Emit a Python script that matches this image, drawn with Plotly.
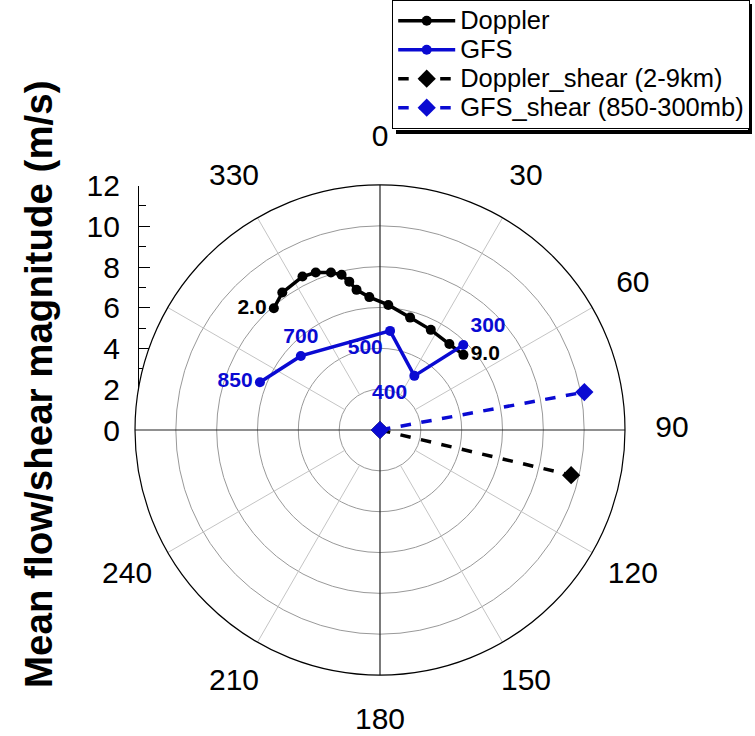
import plotly.graph_objects as go

# Doppler mean flow, 2.0 to 9.0 km layer (speed in m/s, direction in deg)
doppler_speed = [7.91, 8.26, 8.42, 8.33, 8.08, 7.83, 7.42, 6.96, 6.53, 6.14, 5.70, 5.50, 5.41, 5.50]
doppler_dir = [318.9, 324.6, 333.2, 337.8, 342.7, 346.1, 348.3, 350.5, 355.4, 3.8, 15.0, 26.9, 38.9, 48.0]
doppler_labels = ["2.0", "", "", "", "", "", "", "", "", "", "", "", "", "9.0"]

# GFS mean flow at pressure levels (mb)
gfs_levels = ["850", "700", "500", "400", "300"]
gfs_speed = [6.33, 5.31, 4.88, 3.14, 5.83]
gfs_dir = [291.7, 313.1, 5.8, 32.4, 44.4]

# Shear vectors from the origin
doppler_shear_speed = [0, 9.62]
doppler_shear_dir = [103.3, 103.3]
gfs_shear_speed = [0, 10.18]
gfs_shear_dir = [79.5, 79.5]

# Axis settings
r_max = 12
label_r = 14.3          # radius at which the direction labels are centred
ring_vals = [2, 4, 6, 8, 10]
spoke_angles = [30, 60, 120, 150, 210, 240, 300, 330]
cross_angles = [0, 90, 180, 270]
angle_ticks = [0, 30, 60, 90, 120, 150, 180, 210, 240, 330]
y_ticks = [0, 2, 4, 6, 8, 10, 12]

series_names = ["Doppler", "GFS", "Doppler_shear (2-9km)", "GFS_shear (850-300mb)"]

BLUE = "#0a0ad2"
FONT = "Liberation Sans, Arial, Helvetica, sans-serif"

W, H = 755, 736
CX, CY, RPX = 380, 430, 245      # centre and outer-ring radius of the rose, px
LBL_PX = RPX * label_r / r_max   # radius of the label ring, px


def legend_name(s):
    return '<span style="font-size:25.5px">' + s + "</span>"


def px_box(cx, cy, half):
    return dict(x=[(cx - half) / W, (cx + half) / W],
                y=[1 - (cy + half) / H, 1 - (cy - half) / H])


fig = go.Figure()

# light spokes start at the first ring
spoke_r, spoke_t = [], []
for a in spoke_angles:
    spoke_r += [ring_vals[0], r_max, None]
    spoke_t += [a, a, None]
fig.add_trace(go.Scatterpolar(r=spoke_r, theta=spoke_t, mode="lines",
                              line=dict(color="#c4c4c4", width=1),
                              showlegend=False, hoverinfo="skip"))

# black cross through the centre
cross_r, cross_t = [], []
for a in cross_angles:
    cross_r += [0, r_max, None]
    cross_t += [a, a, None]
fig.add_trace(go.Scatterpolar(r=cross_r, theta=cross_t, mode="lines",
                              line=dict(color="#222222", width=1.2),
                              showlegend=False, hoverinfo="skip"))

# direction labels, on a second concentric polar frame
fig.add_trace(go.Scatterpolar(r=[label_r] * len(angle_ticks), theta=angle_ticks,
                              subplot="polar2", mode="text",
                              text=[str(a) for a in angle_ticks],
                              textposition="middle center",
                              textfont=dict(family=FONT, size=30, color="black"),
                              showlegend=False, hoverinfo="skip"))

fig.add_trace(go.Scatterpolar(
    r=doppler_speed, theta=doppler_dir, name=legend_name(series_names[0]),
    mode="lines+markers+text", text=doppler_labels,
    textposition=["middle left"] + ["middle right"] * 13,
    textfont=dict(family=FONT, size=21, color="black", weight="bold"),
    line=dict(color="black", width=3.5),
    marker=dict(color="black", size=10, symbol="circle")))

fig.add_trace(go.Scatterpolar(
    r=gfs_speed, theta=gfs_dir, name=legend_name(series_names[1]),
    mode="lines+markers+text", text=gfs_levels,
    textposition=["middle left", "top center", "bottom left", "bottom left", "top right"],
    textfont=dict(family=FONT, size=21, color=BLUE, weight="bold"),
    line=dict(color=BLUE, width=3.5),
    marker=dict(color=BLUE, size=10, symbol="circle")))

fig.add_trace(go.Scatterpolar(
    r=doppler_shear_speed, theta=doppler_shear_dir, name=legend_name(series_names[2]),
    mode="lines+markers",
    line=dict(color="black", width=3.5, dash="dash"),
    marker=dict(color="black", size=14, symbol="diamond")))

fig.add_trace(go.Scatterpolar(
    r=gfs_shear_speed, theta=gfs_shear_dir, name=legend_name(series_names[3]),
    mode="lines+markers",
    line=dict(color=BLUE, width=3.5, dash="dash"),
    marker=dict(color=BLUE, size=14, symbol="diamond")))

# cartesian overlay used only for the magnitude scale on the left
fig.add_trace(go.Scatter(x=[None], y=[None], showlegend=False, hoverinfo="skip"))

hidden_radial = dict(range=[0, label_r], visible=False, showgrid=False, showline=False)
hidden_angular = dict(rotation=90, direction="clockwise", visible=False,
                      showgrid=False, showline=False)

# drop shadow along the right and bottom edges of the legend box
shadow = dict(type="line", xref="paper", yref="paper", layer="above",
              line=dict(color="black", width=4))

fig.update_layout(
    width=W, height=H,
    margin=dict(l=0, r=0, t=0, b=0, autoexpand=False),
    paper_bgcolor="white", plot_bgcolor="rgba(0,0,0,0)",
    font=dict(family=FONT, color="black"),
    polar=dict(
        domain=px_box(CX, CY, RPX),
        bgcolor="white",
        radialaxis=dict(range=[0, r_max], tickvals=ring_vals, showticklabels=False,
                        ticks="", showline=False, gridcolor="#999999", gridwidth=1),
        angularaxis=dict(rotation=90, direction="clockwise", tickvals=angle_ticks,
                         showticklabels=False, ticks="",
                         showgrid=False, showline=True, linecolor="black", linewidth=1.2),
    ),
    polar2=dict(domain=px_box(CX, CY, LBL_PX), bgcolor="rgba(0,0,0,0)",
                radialaxis=hidden_radial, angularaxis=hidden_angular),
    xaxis=dict(visible=False, domain=[(CX - RPX) / W, (CX + RPX) / W], range=[0, 1]),
    yaxis=dict(anchor="free", position=(CX - RPX + 3) / W,
               domain=[1 - CY / H, 1 - (CY - RPX + 0.5) / H], range=[0, r_max],
               tickvals=y_ticks, ticks="inside", ticklen=11, tickcolor="black",
               showline=True, linecolor="black", linewidth=1.2, showgrid=False,
               zeroline=False, ticklabelstandoff=12,
               tickfont=dict(family=FONT, size=30, color="black"),
               minor=dict(dtick=1, ticks="inside", ticklen=7, tickcolor="black", showgrid=False)),
    legend=dict(x=392 / W, y=1, xanchor="left", yanchor="top",
                bgcolor="white", bordercolor="black", borderwidth=1.2,
                font=dict(family=FONT, size=20, color="black"),
                itemwidth=57, tracegroupgap=0),
    shapes=[
        dict(shadow, x0=396 / W, x1=752 / W, y0=1 - 132 / H, y1=1 - 132 / H),
        dict(shadow, x0=750 / W, x1=750 / W, y0=1 - 132 / H, y1=1 - 4 / H),
    ],
    annotations=[dict(text="<b>Mean flow/shear magnitude (m/s)</b>", textangle=-90,
                      x=38 / W, y=1 - 384 / H, xref="paper", yref="paper",
                      xanchor="center", yanchor="middle",
                      showarrow=False, font=dict(family=FONT, size=38.5, color="black"))],
)

fig.write_html("out.html")
